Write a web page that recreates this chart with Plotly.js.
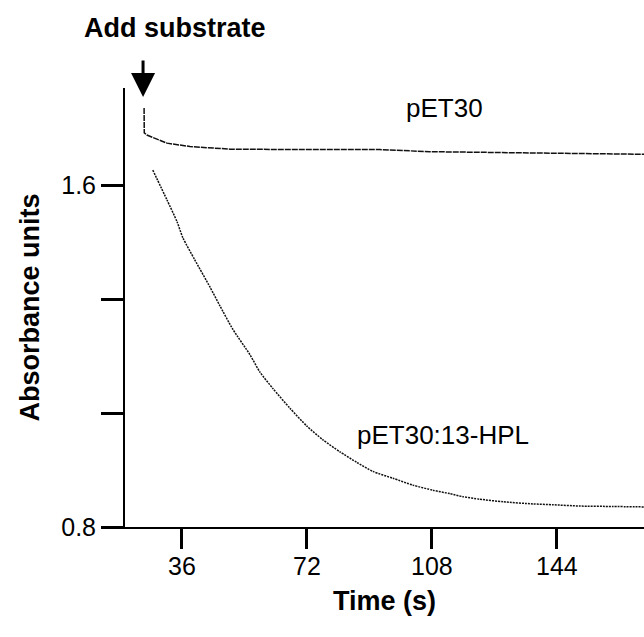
<!DOCTYPE html>
<html>
<head>
<meta charset="utf-8">
<script src="https://cdn.plot.ly/plotly-3.0.1.min.js"></script>
<style>html,body{margin:0;padding:0;background:#fff;}#chart{width:644px;height:637px;}</style>
</head>
<body>
<div id="chart"></div>
<script>
// Time (s) and absorbance values
const ctrlTime = [25.1, 25.15, 25.9, 28.8, 31.7, 38.3, 49.8, 69.1, 93.0, 107.4, 141.1, 167.9, 169.1];
const ctrlAbs  = [1.780, 1.722, 1.717, 1.708, 1.698, 1.690, 1.684, 1.683, 1.683, 1.678, 1.675, 1.672, 1.672];

const hplTime = [27.6, 31.7, 34.6, 36.3, 39.7, 44.1, 46.9, 50.7, 55.6, 58.5, 62.2, 67.1, 72.0, 76.6, 81.5, 86.4, 91.0, 96.8, 102.5, 108.3, 113.2, 116.9, 121.8, 128.5, 137.1, 142.9, 150.6, 160.1, 169.1];
const hplAbs  = [1.635, 1.565, 1.514, 1.476, 1.425, 1.361, 1.318, 1.262, 1.203, 1.162, 1.124, 1.078, 1.036, 1.004, 0.976, 0.951, 0.930, 0.914, 0.898, 0.886, 0.878, 0.871, 0.865, 0.859, 0.854, 0.852, 0.849, 0.848, 0.847];

const xTicks = [36, 72, 108, 144];
const yTicks = [0.8, 1.0667, 1.3333, 1.6];
const yTickText = ['0.8', '', '', '1.6'];

const seriesNames = ['pET30', 'pET30:13-HPL'];

const FONT = 'Liberation Sans, Arial, Helvetica, sans-serif';

const traces = [
  {x: ctrlTime, y: ctrlAbs, name: seriesNames[0], mode: 'lines', type: 'scatter',
   line: {color: '#111', width: 1.5, dash: '6px,1px'}, hoverinfo: 'x+y'},
  {x: hplTime, y: hplAbs, name: seriesNames[1], mode: 'lines', type: 'scatter',
   line: {color: '#111', width: 1.5, dash: '2px,1px', shape: 'spline', smoothing: 0.6}, hoverinfo: 'x+y'}
];

const layout = {
  width: 644, height: 637,
  margin: {l: 125, r: 0, t: 88, b: 110},
  paper_bgcolor: '#fff', plot_bgcolor: '#fff',
  showlegend: false,
  font: {family: FONT, color: '#000', size: 26},
  xaxis: {
    range: [19.6, 169.1], showgrid: false, zeroline: false,
    showline: true, linecolor: '#000', linewidth: 2,
    ticks: 'outside', ticklen: 20, tickwidth: 3, tickcolor: '#000',
    tickvals: xTicks, ticktext: xTicks.map(String),
    tickfont: {family: FONT, size: 25, color: '#000'},
    ticklabelstandoff: -4,
    title: {text: '<b>Time (s)</b>', font: {family: FONT, size: 27, color: '#000'}, standoff: 12},
    automargin: false
  },
  yaxis: {
    range: [0.8, 1.827], showgrid: false, zeroline: false,
    showline: true, linecolor: '#000', linewidth: 2,
    ticks: 'outside', ticklen: 22, tickwidth: 3, tickcolor: '#000',
    tickvals: yTicks, ticktext: yTickText,
    tickfont: {family: FONT, size: 25, color: '#000'},
    title: {text: '<b>Absorbance units</b>', font: {family: FONT, size: 27, color: '#000'}, standoff: 14},
    automargin: false
  },
  annotations: [
    {xref: 'paper', yref: 'paper', x: (175-125)/519, y: (637-110-28)/439 , text: '<b>Add substrate</b>',
     showarrow: false, font: {family: FONT, size: 27, color: '#000'}, xanchor: 'center', yanchor: 'middle'},
    {xref: 'x', yref: 'y', x: 24.8, y: 1.806, text: ' ', showarrow: true,
     ax: 0, ay: -53, arrowhead: 2, arrowsize: 1.6, arrowwidth: 3, arrowcolor: '#000', standoff: 0},
    {xref: 'x', yref: 'y', x: (445-57)/3.472, y: 1.6 + (185-108)/427.5, text: seriesNames[0],
     showarrow: false, font: {family: FONT, size: 26, color: '#000'}},
    {xref: 'x', yref: 'y', x: (443-57)/3.472, y: 1.6 + (185-435)/427.5, text: seriesNames[1],
     showarrow: false, font: {family: FONT, size: 26, color: '#000'}}
  ]
};

Plotly.newPlot('chart', traces, layout, {displayModeBar: false, staticPlot: true});
</script>
</body>
</html>
